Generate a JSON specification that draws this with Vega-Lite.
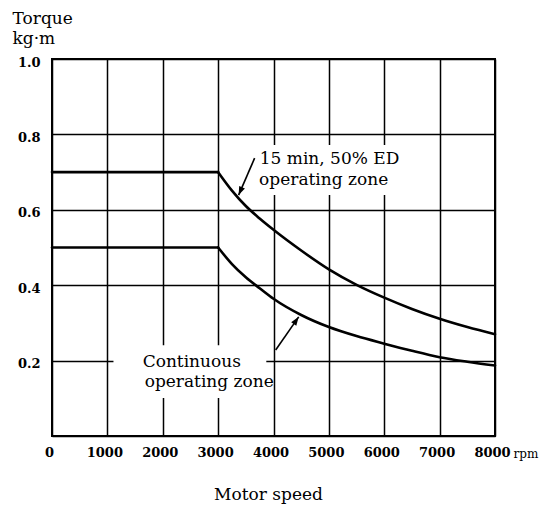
{
  "$schema": "https://vega.github.io/schema/vega-lite/v6.json",
  "width": 443,
  "height": 377,
  "autosize": "none",
  "padding": {"left": 52, "top": 59, "right": 51, "bottom": 75},
  "background": "white",
  "config": {
    "font": "DejaVu Serif",
    "view": {"stroke": "black", "strokeWidth": 2},
    "axis": {
      "ticks": false,
      "domain": false,
      "grid": true,
      "gridColor": "black",
      "gridWidth": 1.5,
      "gridOpacity": 1,
      "labelColor": "black",
      "labelFontSize": 13,
      "labelFontWeight": "bold",
      "titleColor": "black",
      "titleFontSize": 17,
      "titleFontWeight": "normal"
    }
  },
  "datasets": {
    "curves": [
      {"zone": "15 min, 50% ED", "part": "flat", "x": 0, "y": 0.70},
      {"zone": "15 min, 50% ED", "part": "flat", "x": 3000, "y": 0.70},
      {"zone": "15 min, 50% ED", "part": "drop", "x": 3000, "y": 0.70},
      {"zone": "15 min, 50% ED", "part": "drop", "x": 3250, "y": 0.651},
      {"zone": "15 min, 50% ED", "part": "drop", "x": 3500, "y": 0.610},
      {"zone": "15 min, 50% ED", "part": "drop", "x": 3750, "y": 0.577},
      {"zone": "15 min, 50% ED", "part": "drop", "x": 4000, "y": 0.547},
      {"zone": "15 min, 50% ED", "part": "drop", "x": 4500, "y": 0.492},
      {"zone": "15 min, 50% ED", "part": "drop", "x": 5000, "y": 0.442},
      {"zone": "15 min, 50% ED", "part": "drop", "x": 5500, "y": 0.401},
      {"zone": "15 min, 50% ED", "part": "drop", "x": 6000, "y": 0.367},
      {"zone": "15 min, 50% ED", "part": "drop", "x": 6500, "y": 0.337},
      {"zone": "15 min, 50% ED", "part": "drop", "x": 7000, "y": 0.311},
      {"zone": "15 min, 50% ED", "part": "drop", "x": 7500, "y": 0.289},
      {"zone": "15 min, 50% ED", "part": "drop", "x": 8000, "y": 0.27},
      {"zone": "Continuous", "part": "flat", "x": 0, "y": 0.50},
      {"zone": "Continuous", "part": "flat", "x": 3000, "y": 0.50},
      {"zone": "Continuous", "part": "drop", "x": 3000, "y": 0.50},
      {"zone": "Continuous", "part": "drop", "x": 3250, "y": 0.456},
      {"zone": "Continuous", "part": "drop", "x": 3500, "y": 0.421},
      {"zone": "Continuous", "part": "drop", "x": 3750, "y": 0.392},
      {"zone": "Continuous", "part": "drop", "x": 4000, "y": 0.364},
      {"zone": "Continuous", "part": "drop", "x": 4500, "y": 0.321},
      {"zone": "Continuous", "part": "drop", "x": 5000, "y": 0.289},
      {"zone": "Continuous", "part": "drop", "x": 5500, "y": 0.265},
      {"zone": "Continuous", "part": "drop", "x": 6000, "y": 0.245},
      {"zone": "Continuous", "part": "drop", "x": 6500, "y": 0.226},
      {"zone": "Continuous", "part": "drop", "x": 7000, "y": 0.209},
      {"zone": "Continuous", "part": "drop", "x": 7500, "y": 0.197},
      {"zone": "Continuous", "part": "drop", "x": 8000, "y": 0.187}
    ],
    "boxes": [
      {"x": 3700, "x2": 6420, "y": 0.772, "y2": 0.639},
      {"x": 1110, "x2": 3870, "y": 0.241, "y2": 0.101}
    ],
    "labels": [
      {"x": 3752, "y": 0.7215, "label": "15 min, 50% ED"},
      {"x": 3740, "y": 0.666, "label": "operating zone"},
      {"x": 1637, "y": 0.183, "label": "Continuous"},
      {"x": 1673, "y": 0.130, "label": "operating zone"}
    ],
    "arrows": [
      {"x": 3659, "y": 0.737, "x2": 3370, "y2": 0.639, "angle": 203.4},
      {"x": 4039, "y": 0.228, "x2": 4455, "y2": 0.316, "angle": 34.9}
    ]
  },
  "encoding": {
    "x": {
      "field": "x",
      "type": "quantitative",
      "scale": {"domain": [0, 8000], "nice": false, "zero": false},
      "axis": {
        "values": [0, 1000, 2000, 3000, 4000, 5000, 6000, 7000, 8000],
        "format": "d",
        "labelFlush": false,
        "labelPadding": 10,
        "labelOffset": -3,
        "title": "Motor speed",
        "titleX": 216,
        "titleY": 50,
        "titleAlign": "center",
        "titleBaseline": "top"
      }
    },
    "y": {
      "field": "y",
      "type": "quantitative",
      "scale": {"domain": [0, 1], "nice": false},
      "axis": {
        "values": [0, 0.2, 0.4, 0.6, 0.8, 1.0],
        "labelExpr": "datum.value == 0 ? '' : format(datum.value, '.1f')",
        "labelPadding": 12,
        "labelOffset": 3,
        "title": ["Torque", "kg·m"],
        "titleAngle": 0,
        "titleAlign": "left",
        "titleBaseline": "top",
        "titleX": -40,
        "titleY": -49,
        "titleLineHeight": 20
      }
    }
  },
  "layer": [
    {
      "data": {"name": "boxes"},
      "mark": {"type": "rect", "fill": "white", "stroke": null},
      "encoding": {
        "x2": {"field": "x2"},
        "y2": {"field": "y2"}
      }
    },
    {
      "data": {"name": "curves"},
      "mark": {"type": "line", "color": "black", "strokeWidth": 2.6, "interpolate": "monotone", "strokeCap": "round"},
      "encoding": {
        "detail": [
          {"field": "zone", "type": "nominal"},
          {"field": "part", "type": "nominal"}
        ]
      }
    },
    {
      "data": {"name": "arrows"},
      "mark": {"type": "rule", "color": "black", "strokeWidth": 1.6},
      "encoding": {
        "x2": {"field": "x2"},
        "y2": {"field": "y2"}
      }
    },
    {
      "data": {"name": "arrows"},
      "mark": {"type": "point", "filled": true, "color": "black", "opacity": 1, "size": 300, "shape": "M0,0L-0.36,1L0.36,1Z"},
      "encoding": {
        "x": {"field": "x2", "type": "quantitative"},
        "y": {"field": "y2", "type": "quantitative"},
        "angle": {"field": "angle", "type": "quantitative", "scale": null}
      }
    },
    {
      "data": {"name": "labels"},
      "mark": {"type": "text", "align": "left", "baseline": "alphabetic", "fontSize": 17, "color": "black"},
      "encoding": {
        "text": {"field": "label", "type": "nominal"}
      }
    },
    {
      "data": {"values": [{"x": 8000, "y": 0, "label": "rpm"}]},
      "mark": {"type": "text", "align": "center", "baseline": "alphabetic", "fontSize": 12, "dx": 31, "dy": 22, "color": "black"},
      "encoding": {
        "text": {"field": "label", "type": "nominal"}
      }
    }
  ]
}
